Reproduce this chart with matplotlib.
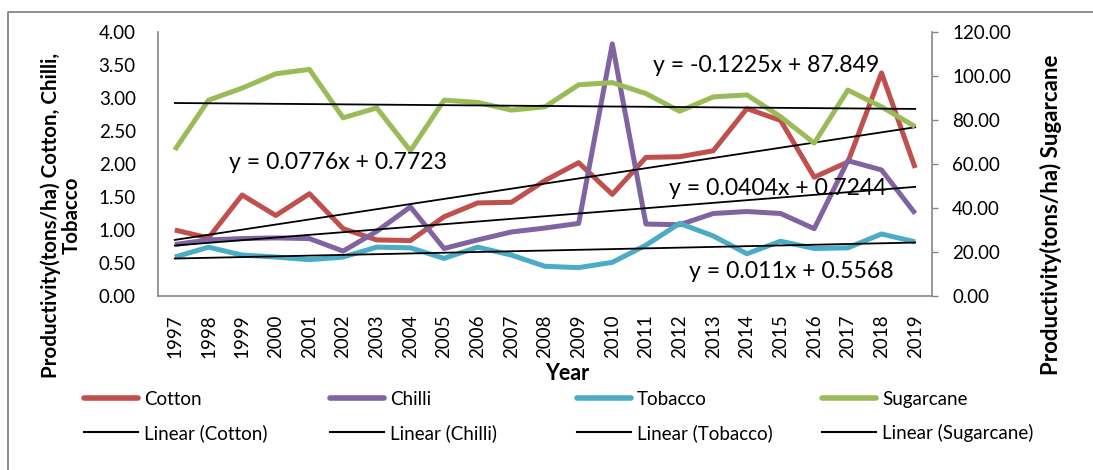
import matplotlib
matplotlib.use('Agg')
import matplotlib.pyplot as plt
import numpy as np
from matplotlib.lines import Line2D
from matplotlib.ticker import FormatStrFormatter

# ---------------- data ----------------
years = [str(y) for y in range(1997, 2020)]
cotton = [1.00, 0.88, 1.53, 1.22, 1.55, 1.02, 0.85, 0.84, 1.20, 1.41, 1.42, 1.75,
          2.02, 1.54, 2.10, 2.11, 2.20, 2.84, 2.66, 1.80, 2.03, 3.38, 1.94]
chilli = [0.78, 0.85, 0.87, 0.88, 0.87, 0.68, 0.98, 1.35, 0.72, 0.85, 0.97, 1.03,
          1.10, 3.82, 1.09, 1.08, 1.25, 1.28, 1.25, 1.02, 2.05, 1.91, 1.25]
tobacco = [0.59, 0.74, 0.62, 0.59, 0.55, 0.59, 0.74, 0.73, 0.57, 0.74, 0.62, 0.45,
           0.43, 0.51, 0.77, 1.10, 0.91, 0.64, 0.83, 0.72, 0.73, 0.94, 0.82]
sugarcane = [66.4, 89.0, 94.5, 101.0, 103.0, 81.0, 85.5, 66.0, 89.0, 88.0, 84.5, 86.0,
             96.0, 97.0, 92.0, 84.0, 90.5, 91.4, 81.5, 69.5, 93.6, 86.0, 77.0]

# Excel linear trendlines (y = slope * x + intercept, x = 1..23)
cotton_trend = (0.0776, 0.7723)
chilli_trend = (0.0404, 0.7244)
tobacco_trend = (0.011, 0.5568)
sugarcane_trend = (-0.1225, 87.849)

left_ticks = [0, 0.5, 1.0, 1.5, 2.0, 2.5, 3.0, 3.5, 4.0]
right_ticks = [0, 20, 40, 60, 80, 100, 120]

# ---------------- style ----------------
plt.rcParams['font.family'] = ['Lato', 'DejaVu Sans']
C_COT, C_CHI, C_TOB, C_SUG = '#C0504D', '#8064A2', '#4BACC6', '#9BBB59'
GRAY = '#868686'

W, H = 1093, 470
fig = plt.figure(figsize=(W / 100, H / 100), dpi=100)

# outer chart border
fig.add_artist(Line2D([8 / W, 8 / W, 1.0], [0.0, 1 - 12 / H, 1 - 12 / H],
                      transform=fig.transFigure, color=GRAY, lw=1.3))

ax = fig.add_axes([158 / W, 1 - 296 / H, 774 / W, 264 / H])
ax2 = ax.twinx()

x = np.arange(len(years))
xe = x + 1
LW = 3.6
kw = dict(lw=LW, solid_joinstyle='round', solid_capstyle='butt')
ax.plot(x, cotton, color=C_COT, **kw, zorder=2)
ax.plot(x, chilli, color=C_CHI, **kw, zorder=2)
ax.plot(x, tobacco, color=C_TOB, **kw, zorder=2)
ax.plot(x, cotton_trend[0] * xe + cotton_trend[1], color='black', lw=1.3, zorder=3)
ax.plot(x, chilli_trend[0] * xe + chilli_trend[1], color='black', lw=1.3, zorder=3)
ax.plot(x, tobacco_trend[0] * xe + tobacco_trend[1], color='black', lw=1.3, zorder=3)
ax2.plot(x, sugarcane, color=C_SUG, **kw, zorder=2)
ax2.plot(x, sugarcane_trend[0] * xe + sugarcane_trend[1], color='black', lw=1.3, zorder=3)

ax.set_xlim(-0.5, len(years) - 0.5)
ax.set_ylim(0, 4)
ax2.set_ylim(0, 120)
ax.set_yticks(left_ticks)
ax2.set_yticks(right_ticks)
ax.yaxis.set_major_formatter(FormatStrFormatter('%.2f'))
ax2.yaxis.set_major_formatter(FormatStrFormatter('%.2f'))
ax.set_xticks(x)
ax.set_xticklabels(years, rotation=90)

FS = 13.5
ax.tick_params(axis='x', length=0, pad=13, labelsize=FS)
ax.tick_params(axis='y', length=0, pad=16, labelsize=FS)
ax2.tick_params(axis='y', length=4.5, width=1, color=GRAY, direction='out', pad=10, labelsize=FS)

for s in ['top', 'right']:
    ax.spines[s].set_visible(False)
for s in ['top', 'left', 'bottom']:
    ax2.spines[s].set_visible(False)
for s in ['left', 'bottom']:
    ax.spines[s].set_color(GRAY)
    ax.spines[s].set_linewidth(1.2)
ax2.spines['right'].set_color(GRAY)
ax2.spines['right'].set_linewidth(1.2)

# trendline equations
EFS = 16.6
ax2.text(0.7855, 0.875, 'y = -0.1225x + 87.849', transform=ax.transAxes, ha='center', va='center', fontsize=EFS, zorder=5)
ax2.text(0.2326, 0.504, 'y = 0.0776x + 0.7723', transform=ax.transAxes, ha='center', va='center', fontsize=EFS, zorder=5)
ax2.text(0.801, 0.409, 'y = 0.0404x + 0.7244', transform=ax.transAxes, ha='center', va='center', fontsize=EFS, zorder=5)
ax2.text(0.818, 0.091, 'y = 0.011x + 0.5568', transform=ax.transAxes, ha='center', va='center', fontsize=EFS, zorder=5)

# axis titles
fig.text(61 / W, 1 - 215 / H, 'Productivity(tons/ha) Cotton, Chilli,\nTobacco', rotation=90,
         ha='center', va='center', multialignment='center', fontweight='bold', fontsize=14.8, linespacing=1.0)
fig.text(1051 / W, 1 - 215 / H, 'Productivity(tons/ha) Sugarcane', rotation=90,
         ha='center', va='center', fontweight='bold', fontsize=16)
fig.text(567 / W, 1 - 373 / H, 'Year', ha='center', va='center', fontweight='bold', fontsize=15.5)

# legends: one per column
cols = [('Cotton', C_COT, 84), ('Chilli', C_CHI, 330), ('Tobacco', C_TOB, 577), ('Sugarcane', C_SUG, 822)]
for name, col, px in cols:
    handles = [Line2D([], [], color=col, lw=4, solid_capstyle='round'),
               Line2D([], [], color='black', lw=1.5)]
    fig.legend(handles, [name, f'Linear ({name})'], loc='upper left',
               bbox_to_anchor=(px / W, 1 - 391 / H), frameon=False, fontsize=FS,
               handlelength=2.9, handletextpad=0.3, borderpad=0, borderaxespad=0,
               labelspacing=0.85)

fig.savefig('out.png', dpi=100)
